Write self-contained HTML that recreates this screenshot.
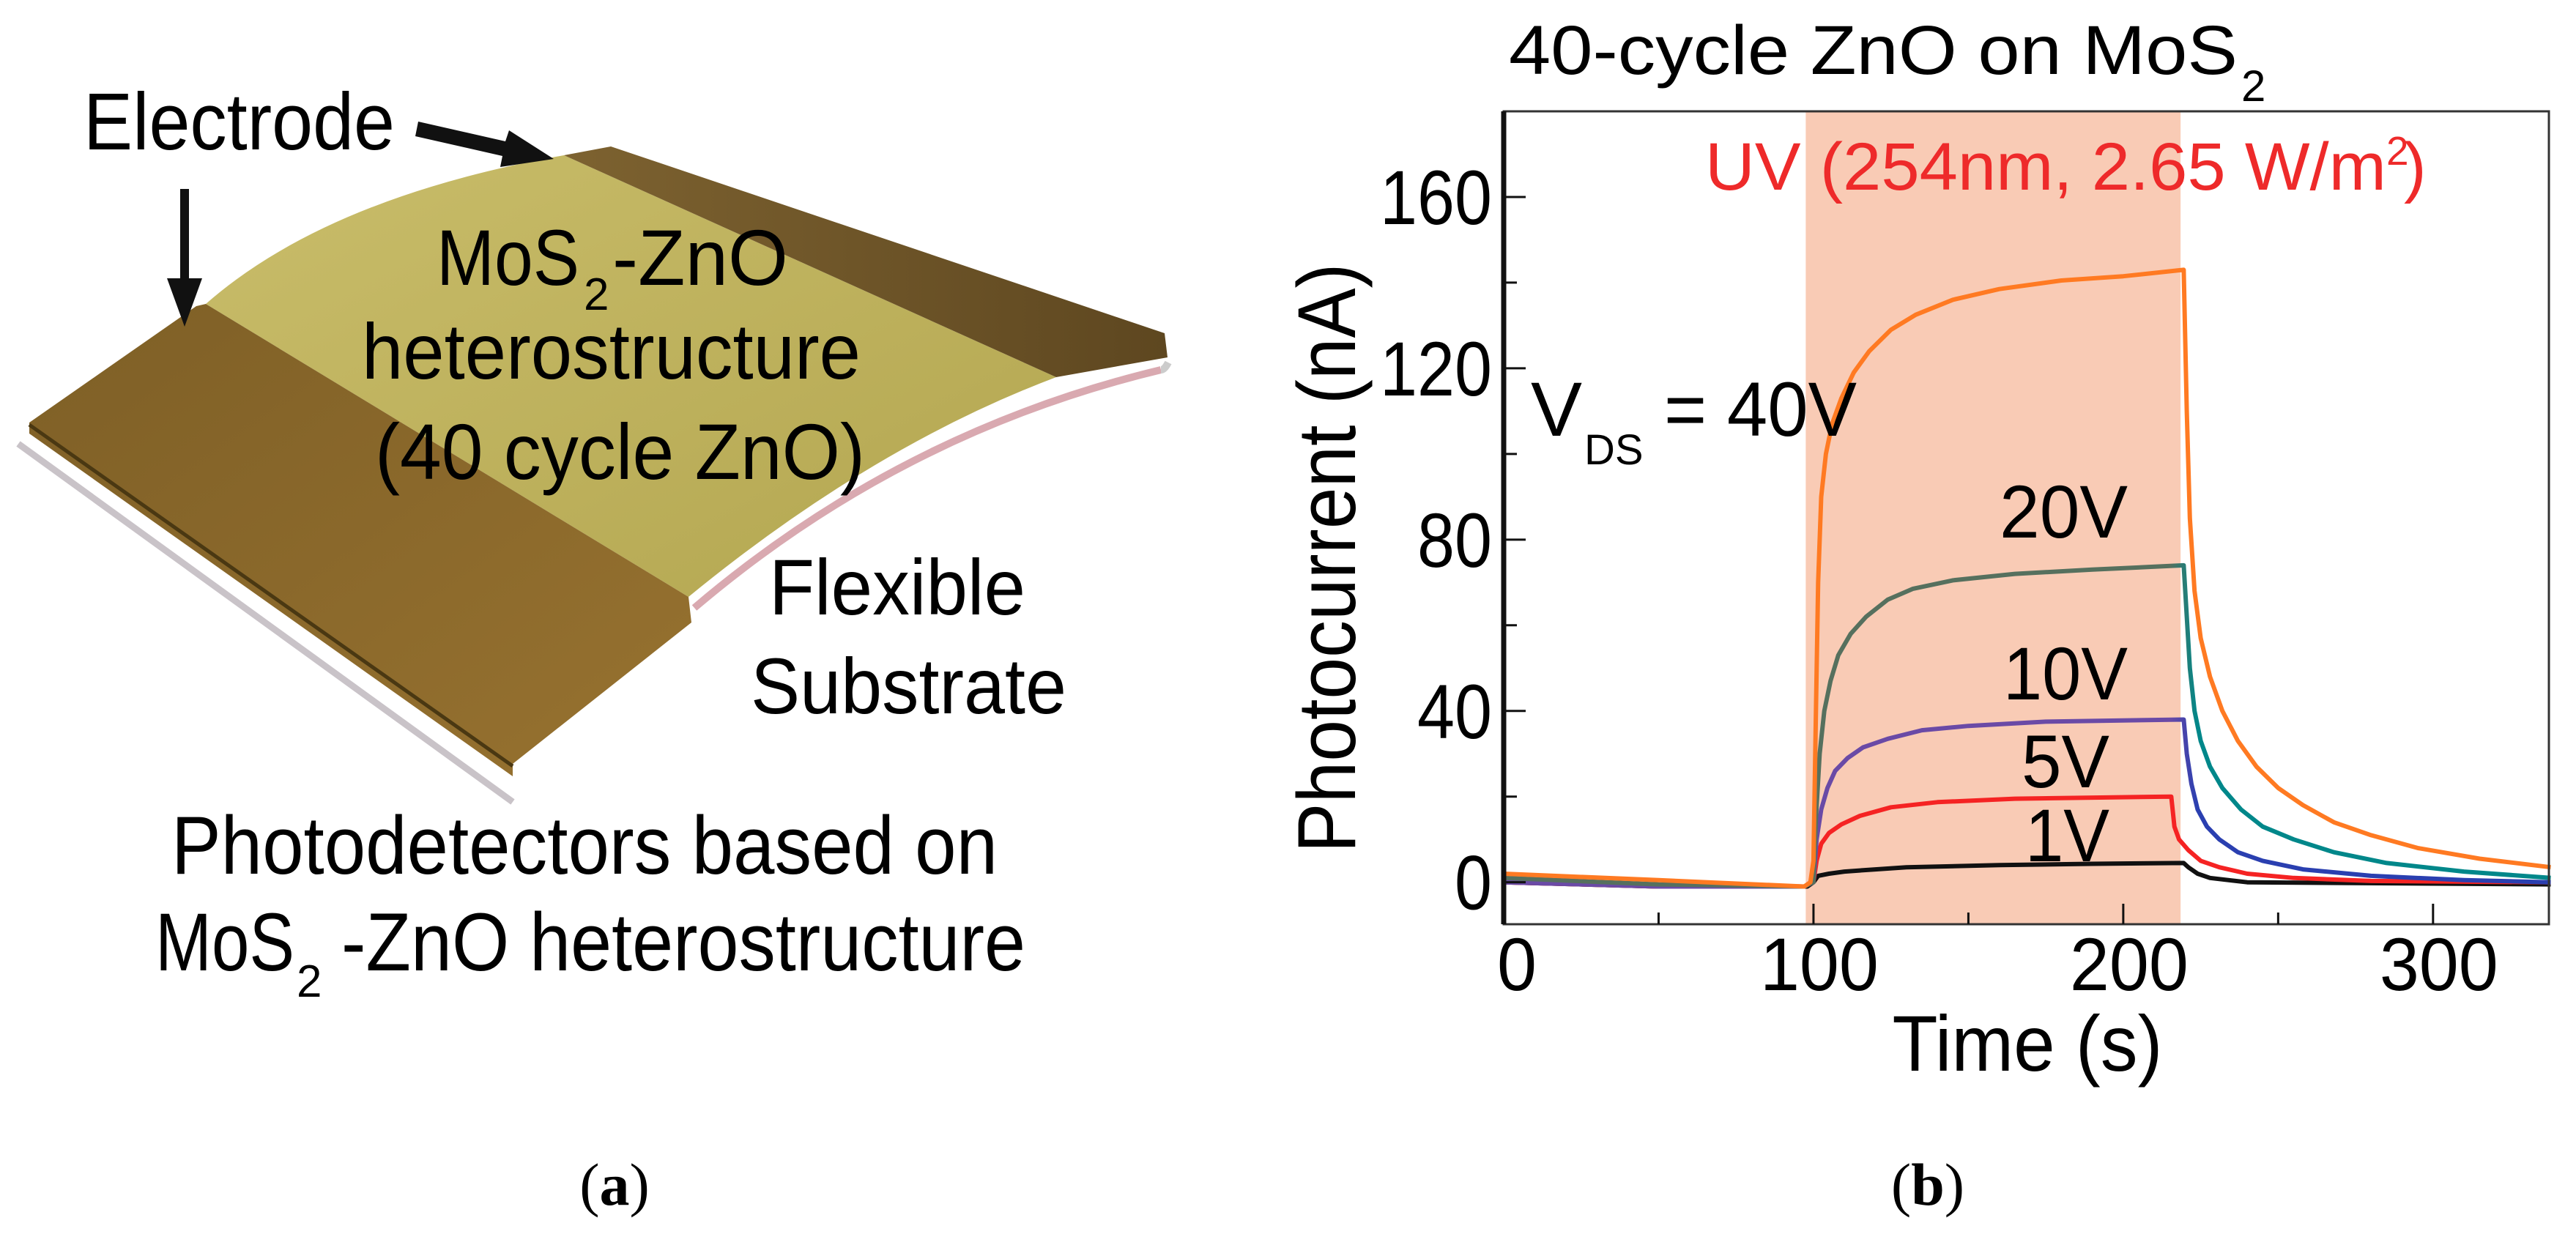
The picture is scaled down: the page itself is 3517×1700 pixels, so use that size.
<!DOCTYPE html>
<html><head><meta charset="utf-8"><style>
html,body{margin:0;padding:0;background:#fff;}
svg{display:block;}
text{font-family:"Liberation Sans",sans-serif;}
</style></head><body>
<svg id="fig" width="3517" height="1700" viewBox="0 0 3517 1700" xmlns="http://www.w3.org/2000/svg">
<defs>
<linearGradient id="gYel" x1="0" y1="0" x2="1" y2="1">
<stop offset="0" stop-color="#c9bd6a"/><stop offset="1" stop-color="#b3a650"/></linearGradient>
<linearGradient id="gLeft" x1="0" y1="0" x2="1" y2="1">
<stop offset="0" stop-color="#7e5f26"/><stop offset="1" stop-color="#977230"/></linearGradient>
<linearGradient id="gRight" x1="0" y1="0" x2="1" y2="0">
<stop offset="0" stop-color="#7d6230"/><stop offset="1" stop-color="#5e4720"/></linearGradient>
</defs>

<g>
<path d="M25,606 L700,1095" stroke="#c9c3c8" stroke-width="9" fill="none"/>
<path d="M1585,505 Q1230,590 948,830" stroke="#d9a9b0" stroke-width="10" fill="none"/>
<path d="M1595,495 Q1590,505 1585,505" stroke="#ccc" stroke-width="10" fill="none"/>
<path d="M281,415 Q446,270 770,212 L1442,515 Q1190,610 940,815 Z" fill="url(#gYel)"/>
<path d="M770,212 L834,200 L1590,455 L1594,488 L1442,515 Z" fill="url(#gRight)"/>
<path d="M40,577 L268,418 L281,415 L940,815 L944,850 L700,1043 L700,1060 L40,592 Z" fill="url(#gLeft)"/>
<path d="M40,580 L700,1046" stroke="#4a3812" stroke-width="5" fill="none"/>
<path d="M246,258 L258,258 L258,380 L276,380 L252,446 L228,380 L246,380 Z" fill="#111"/>
<path d="M571,166 L690,193 L695,178 L756,217 L683,228 L686,213 L567,186 Z" fill="#111"/>
</g>
<text x="114" y="204" font-size="110" textLength="425" lengthAdjust="spacingAndGlyphs">Electrode</text>
<text x="596" y="389" font-size="108" textLength="195" lengthAdjust="spacingAndGlyphs">MoS</text>
<text x="797" y="423" font-size="62">2</text>
<text x="836" y="389" font-size="108" textLength="240" lengthAdjust="spacingAndGlyphs">-ZnO</text>
<text x="494" y="517" font-size="108" textLength="681" lengthAdjust="spacingAndGlyphs">heterostructure</text>
<text x="512" y="654" font-size="108" textLength="669" lengthAdjust="spacingAndGlyphs">(40 cycle ZnO)</text>
<text x="1050" y="839" font-size="108" textLength="350" lengthAdjust="spacingAndGlyphs">Flexible</text>
<text x="1025" y="974" font-size="108" textLength="431" lengthAdjust="spacingAndGlyphs">Substrate</text>
<text x="234" y="1193" font-size="112" textLength="1128" lengthAdjust="spacingAndGlyphs">Photodetectors based on</text>
<text x="212" y="1325" font-size="112" textLength="190" lengthAdjust="spacingAndGlyphs">MoS</text>
<text x="405" y="1361" font-size="62">2</text>
<text x="466" y="1325" font-size="112" textLength="934" lengthAdjust="spacingAndGlyphs">-ZnO heterostructure</text>
<text x="839" y="1645" font-size="82" text-anchor="middle" style="font-family:'Liberation Serif',serif">(<tspan font-weight="bold">a</tspan>)</text>
<text x="2632" y="1645" font-size="82" text-anchor="middle" style="font-family:'Liberation Serif',serif">(<tspan font-weight="bold">b</tspan>)</text>

<g id="chart"></g>
<text x="2060" y="101" font-size="95" textLength="995" lengthAdjust="spacingAndGlyphs">40-cycle ZnO on MoS</text>
<text x="3060" y="138" font-size="60">2</text>
<text x="2328" y="259" font-size="92" fill="#ee2a2a" textLength="930" lengthAdjust="spacingAndGlyphs">UV (254nm, 2.65 W/m</text>
<text x="3258" y="225" font-size="55" fill="#ee2a2a">2</text>
<text x="3282" y="259" font-size="92" fill="#ee2a2a">)</text>
<text x="2090" y="595" font-size="105">V</text>
<text x="2163" y="634" font-size="58">DS</text>
<text x="2272" y="595" font-size="105" textLength="263" lengthAdjust="spacingAndGlyphs">= 40V</text>
<text x="2730" y="734" font-size="102" textLength="175" lengthAdjust="spacingAndGlyphs">20V</text>
<text x="2735" y="955" font-size="102" textLength="170" lengthAdjust="spacingAndGlyphs">10V</text>
<text x="2760" y="1075" font-size="102" textLength="120" lengthAdjust="spacingAndGlyphs">5V</text>
<text transform="translate(1850,762) rotate(-90)" font-size="112" text-anchor="middle" textLength="805" lengthAdjust="spacingAndGlyphs">Photocurrent (nA)</text>
<text x="2768" y="1462" font-size="108" text-anchor="middle" textLength="369" lengthAdjust="spacingAndGlyphs">Time (s)</text>

<script>
var xTicks = [0, 100, 200, 300];
var xMinorTicks = [50, 150, 250];
var yTicks = [0, 40, 80, 120, 160];
var yMinorTicks = [20, 60, 100, 140];
var uvOn = [97.5, 218.5];
var seriesNames = ["40V", "20V", "10V", "5V", "1V"];
var t40 = [0, 50, 97, 99, 100, 100.8, 101.5, 102.5, 104, 106, 109, 113, 118, 125, 133, 145, 160, 180, 200, 219.5, 220.5, 221.5, 223, 225, 228, 232, 237, 243, 250, 258, 268, 280, 295, 315, 338];
var v40 = [2, 0.5, -1, 0, 5, 40, 70, 90, 100, 107, 113, 119, 124, 129, 132.5, 136, 138.5, 140.5, 141.5, 143, 110, 85, 68, 57, 48, 40, 33, 27, 22, 18, 14, 11, 8, 5.5, 3.5];
var t20 = [0, 50, 97, 100, 100.8, 102, 103.5, 105.5, 108, 112, 117, 124, 132, 145, 165, 190, 219.5, 220.5, 221.5, 223, 225, 228, 232, 238, 245, 255, 268, 285, 310, 338];
var v20 = [1, -0.5, -1, 0, 15, 30, 40, 47, 53, 58, 62, 66, 68.5, 70.5, 72, 73, 74, 62, 50, 40, 33, 27, 22, 17, 13, 10, 7, 4.5, 2.5, 1];
var t10 = [0, 50, 97, 100, 101, 102.5, 104.5, 107, 111, 116, 124, 135, 150, 175, 219.5, 220.5, 222, 224, 227, 231, 237, 245, 258, 280, 310, 338];
var v10 = [0, -1, -1, 0, 10, 17, 22, 26, 29, 31.5, 33.5, 35.5, 36.5, 37.5, 38, 30, 23, 17, 13, 10, 7, 5, 3, 1.5, 0.5, 0];
var t5 = [0, 50, 97, 100, 101, 102.5, 105, 109, 115, 125, 140, 165, 215.5, 216.5, 218, 221, 225, 231, 240, 255, 280, 338];
var v5 = [0, -1, -1, 0, 5, 9, 11.5, 13.5, 15.5, 17.5, 18.7, 19.5, 20, 13, 10, 7.5, 5, 3.5, 2, 1, 0.3, 0];
var t1 = [0, 50, 98, 100, 101.5, 105, 110, 120, 130, 160, 190, 219.5, 221, 224, 228, 240, 338];
var v1 = [0, -1, -1, 0, 1.5, 2, 2.5, 3, 3.5, 4, 4.3, 4.5, 3.5, 2, 1, 0, -0.5];

var NS = "http://www.w3.org/2000/svg";
var L = 2053, R = 3480, T = 152, B = 1262;
var X0 = 0, X1 = 337.4, Y0 = -9.8, Y1 = 180;
function sx(t) { return L + (t - X0) / (X1 - X0) * (R - L); }
function sy(v) { return B - (v - Y0) / (Y1 - Y0) * (B - T); }
var g = document.getElementById("chart");
function mk(tag, attrs) {
  var e = document.createElementNS(NS, tag);
  for (var k in attrs) e.setAttribute(k, attrs[k]);
  g.appendChild(e);
  return e;
}

var shade = mk("rect", {x: sx(uvOn[0]), y: T, width: sx(uvOn[1]) - sx(uvOn[0]), height: B - T, fill: "#f9cbb5"});



var lbl1 = mk("text", {x: 2765, y: 1176, "font-size": 102, textLength: 115, lengthAdjust: "spacingAndGlyphs"});
lbl1.textContent = "1V";



var colors = [
  ["#ff7a22", "#ff7a22"],
  ["#56705e", "#00878a"],
  ["#6a4aa6", "#2a3fb0"],
  ["#f52323", "#f52323"],
  ["#111111", "#111111"]
];
var tArr = [t40, t20, t10, t5, t1];
var vArr = [v40, v20, v10, v5, v1];
var defs = document.querySelector("defs");
for (var i = 4; i >= 0; i--) {
  var grad = document.createElementNS(NS, "linearGradient");
  grad.setAttribute("id", "sg" + i);
  grad.setAttribute("gradientUnits", "userSpaceOnUse");
  grad.setAttribute("x1", sx(215)); grad.setAttribute("x2", sx(224));
  grad.setAttribute("y1", 0); grad.setAttribute("y2", 0);
  var s1 = document.createElementNS(NS, "stop"); s1.setAttribute("offset", "0"); s1.setAttribute("stop-color", colors[i][0]);
  var s2 = document.createElementNS(NS, "stop"); s2.setAttribute("offset", "1"); s2.setAttribute("stop-color", colors[i][1]);
  grad.appendChild(s1); grad.appendChild(s2); defs.appendChild(grad);
  var pts = [];
  for (var j = 0; j < tArr[i].length; j++) pts.push(sx(tArr[i][j]).toFixed(1) + "," + sy(vArr[i][j]).toFixed(1));
  var pl = mk("polyline", {points: pts.join(" "), fill: "none", stroke: "url(#sg" + i + ")", "stroke-width": 6, "stroke-linejoin": "round"});
  
  
}

var frame = mk("rect", {x: L, y: T, width: R - L, height: B - T, fill: "none", stroke: "#333", "stroke-width": 3});


var yaxis = mk("line", {x1: L, y1: T, x2: L, y2: B, stroke: "#111", "stroke-width": 7});



yTicks.forEach(function (v) {
  var tk = mk("line", {x1: L, x2: L + 30, y1: sy(v), y2: sy(v), stroke: "#111", "stroke-width": 3});
  
  
  var tx = mk("text", {x: 2037, y: sy(v) + 37, "font-size": 105, "text-anchor": "end", textLength: String(v).length * 51, lengthAdjust: "spacingAndGlyphs"});
  tx.textContent = v;
  
  
});
yMinorTicks.forEach(function (v) {
  var tk = mk("line", {x1: L, x2: L + 18, y1: sy(v), y2: sy(v), stroke: "#111", "stroke-width": 3});
  
  
});
xTicks.forEach(function (t) {
  var tk = mk("line", {x1: sx(t), x2: sx(t), y1: B, y2: B - 28, stroke: "#111", "stroke-width": 3});
  
  
  var tx = mk("text", {x: sx(t) + (t === 0 ? 18 : 8), y: 1352, "font-size": 102, "text-anchor": "middle", textLength: String(t).length * 54, lengthAdjust: "spacingAndGlyphs"});
  tx.textContent = t;
  
  
});
xMinorTicks.forEach(function (t) {
  var tk = mk("line", {x1: sx(t), x2: sx(t), y1: B, y2: B - 16, stroke: "#111", "stroke-width": 3});
  
  
});
</script>
</svg>
</body></html>
